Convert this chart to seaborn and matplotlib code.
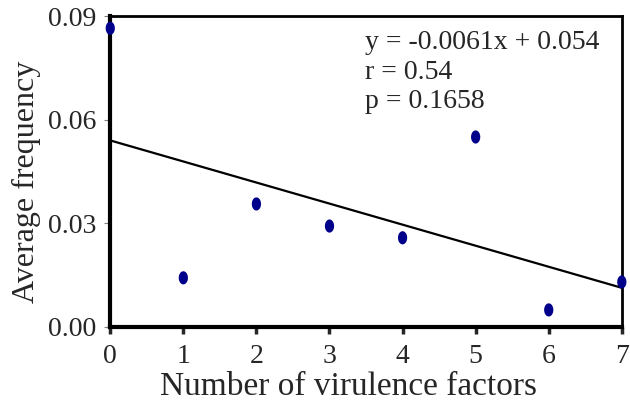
import numpy as np
import pandas as pd
import matplotlib
matplotlib.use("Agg")
import matplotlib.pyplot as plt
from matplotlib.path import Path
import seaborn as sns

# ── Data ─────────────────────────────────────────────────────
n_factors = [0, 1, 2, 3, 4, 5, 6, 7]
avg_freq = [0.0865, 0.0142, 0.0356, 0.0292, 0.0258, 0.0550, 0.0049, 0.0130]
slope, intercept = -0.0061, 0.054
stats_lines = ["y = -0.0061x + 0.054", "r = 0.54", "p = 0.1658"]

df = pd.DataFrame({"x": n_factors, "y": avg_freq})

sns.set_style("ticks")
plt.rcParams["font.family"] = ["Liberation Serif", "DejaVu Serif"]

fig = plt.figure(figsize=(6.3, 4.04), dpi=100)
ax = fig.add_axes([0.175, 0.191, 0.812, 0.769])

# fitted line
fit_x = np.array([0, 7])
ax.plot(fit_x, slope * fit_x + intercept, color="black", lw=1.6, zorder=2)

# elliptical markers (taller than wide)
t = np.linspace(0, 2 * np.pi, 40)
ellipse = Path(np.column_stack([0.7 * np.cos(t), np.sin(t)]), closed=True)
sns.scatterplot(data=df, x="x", y="y", ax=ax, marker=ellipse, s=90,
                color="#00008b", edgecolor="none", zorder=3, clip_on=False)

ax.set_xlim(0, 7)
ax.set_ylim(0, 0.09)
ax.set_xticks(range(0, 8))
ax.set_yticks([0.0, 0.03, 0.06, 0.09])
ax.set_yticklabels(["0.00", "0.03", "0.06", "0.09"])
ax.tick_params(axis="x", labelsize=20, length=5, width=2.5, direction="out", pad=7)
ax.tick_params(axis="y", labelsize=20, length=4, width=0.8, color="grey", direction="out", pad=6)
ax.set_xlabel("Number of virulence factors", fontsize=24, labelpad=0)
ax.xaxis.set_label_coords(0.465, -0.145)
ax.set_ylabel("Average frequency", fontsize=23, labelpad=8)
ax.yaxis.set_label_coords(-0.135, 0.466)

for side in ["left", "bottom"]:
    ax.spines[side].set_linewidth(3)
for side in ["top", "right"]:
    ax.spines[side].set_linewidth(2)
for sp in ax.spines.values():
    sp.set_color("black")
    sp.set_visible(True)

ax.text(0.498, 0.955, "\n".join(stats_lines), transform=ax.transAxes,
        fontsize=20, va="top", ha="left", linespacing=1.23)

fig.savefig("out.png", dpi=100)
